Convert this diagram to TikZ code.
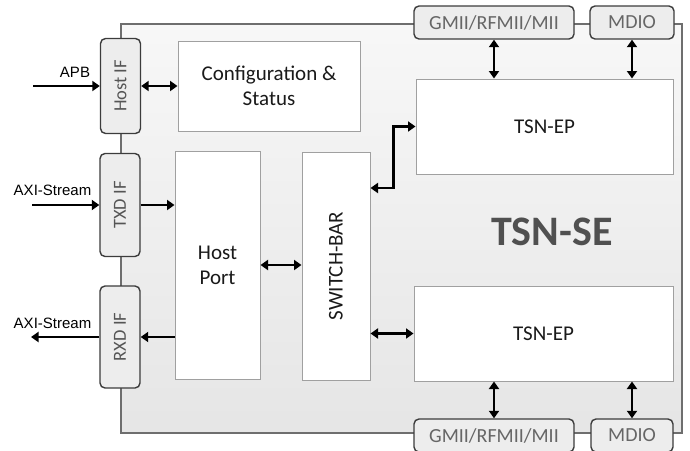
\documentclass[tikz,border=0pt]{standalone}
\usepackage{fontspec}
\setmainfont{Carlito}
\newfontfamily\arialfont{Liberation Sans}
\usetikzlibrary{arrows.meta,calc}
\definecolor{frameline}{HTML}{6E6E6E}
\definecolor{boxline}{HTML}{A0A0A0}
\definecolor{ifline}{HTML}{3C3C3C}
\definecolor{iffill}{HTML}{EDEDED}
\definecolor{iftext}{HTML}{555555}
\definecolor{porttext}{HTML}{666666}
\definecolor{maintext}{HTML}{1A1A1A}
\definecolor{bigtext}{HTML}{505050}
\tikzset{
  x=1pt, y=-1pt,
  block/.style={draw=boxline, line width=1pt, fill=white, inner sep=0pt,
    align=center, text=maintext, font=\fontsize{21}{25}\selectfont},
  ifbox/.style={draw=ifline, line width=1.4pt, fill=iffill, rounded corners=5pt,
    inner sep=0pt, minimum width=40pt, text=iftext, font=\fontsize{18.5}{20}\selectfont},
  portbox/.style={draw=ifline, line width=1.4pt, fill=iffill, rounded corners=5pt,
    inner sep=0pt, minimum height=33pt, text=porttext, font=\fontsize{20}{22}\selectfont},
  sig/.style={line width=2.3pt, -{Triangle[length=7.5pt,width=10pt]}},
  dbl/.style={line width=2.3pt, {Triangle[length=7.5pt,width=10pt]}-{Triangle[length=7.5pt,width=10pt]}},
  extlabel/.style={font=\arialfont\fontsize{15}{16}\selectfont, text=black, inner sep=0pt}
}
\begin{document}
\begin{tikzpicture}
\useasboundingbox (0,0) rectangle (690,450);
\clip (0,0) rectangle (690,450);
% outer frame
\shade[top color=white!97!black, bottom color=white!90!black] (121,24) rectangle (682,433);
\draw[frameline, line width=1.6pt] (121,24) rectangle (682,433);
\node[font=\bfseries\fontsize{42}{46}\selectfont, text=bigtext] (tsnse) at (552,232) {TSN-SE};
% interface boxes on left
\node[ifbox, minimum height=95pt] (hostif) at (120.5,86) {\rotatebox{90}{Host IF}};
\node[ifbox, minimum height=103pt] (txdif) at (120,205) {\rotatebox{90}{TXD IF}};
\node[ifbox, minimum height=102pt] (rxdif) at (120,337) {\rotatebox{90}{RXD IF}};
% top / bottom port boxes
\node[portbox, minimum width=160pt] (gm1) at (494,22.5) {GMII/RFMII/MII};
\node[portbox, minimum width=84pt] (md1) at (632,22.5) {MDIO};
\node[portbox, minimum width=160pt] (gm2) at (494,435.5) {GMII/RFMII/MII};
\node[portbox, minimum width=82pt] (md2) at (632,435.5) {MDIO};
% inner blocks
\node[block, minimum width=182pt, minimum height=90pt] (cfg) at (269,86) {Configuration \&\\Status};
\node[block, minimum width=85pt, minimum height=228pt] (hp) at (217.5,265) {Host\\Port};
\node[block, minimum width=68pt, minimum height=228pt] (sb) at (336,266) {\rotatebox{90}{SWITCH-BAR}};
\node[block, minimum width=257pt, minimum height=95pt] (ep1) at (544.5,126.5) {TSN-EP};
\node[block, minimum width=259pt, minimum height=95pt] (ep2) at (543.5,333.5) {TSN-EP};
% external labels and free ends
\node[extlabel] (apb) at (75,72) {APB};
\node[extlabel] (axiin) at (52.5,190) {AXI-Stream};
\node[extlabel] (axiout) at (52.5,323) {AXI-Stream};
\coordinate (apbsrc) at (33,86);
\coordinate (axisrc) at (32,205);
\coordinate (axidst) at (31,337);
% connectors
\draw[sig] (apbsrc) -- (hostif.west);
\draw[sig] (axisrc) -- (txdif.west);
\draw[sig] (rxdif.west) -- (axidst);
\draw[dbl] (hostif.east) -- (cfg.west |- hostif.east);
\draw[sig] (txdif.east) -- (hp.west |- txdif.east);
\draw[sig] (hp.west |- rxdif.east) -- (rxdif.east);
\draw[dbl] (hp.east) -- (sb.west |- hp.east);
\draw[dbl] (sb.east |- {(0,188)}) -- ++(23,0) |- (ep1.west);
\draw[dbl] (sb.east |- ep2.west) -- (ep2.west);
\draw[dbl] (gm1.south) -- (gm1.south |- ep1.north);
\draw[dbl] (md1.south) -- (md1.south |- ep1.north);
\draw[dbl] (ep2.south -| gm2.north) -- (gm2.north);
\draw[dbl] (ep2.south -| md2.north) -- (md2.north);
\end{tikzpicture}
\end{document}
